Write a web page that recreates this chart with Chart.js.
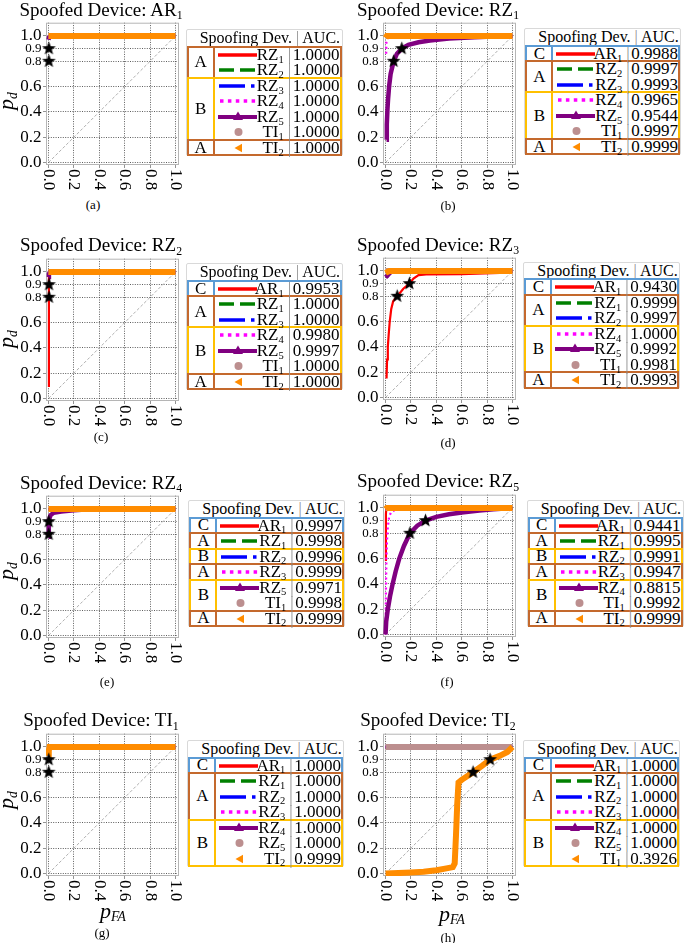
<!DOCTYPE html>
<html>
<head>
<meta charset="utf-8">
<script src="https://cdn.jsdelivr.net/npm/chart.js@4.4.1/dist/chart.umd.min.js"></script>
<style>
  html, body { margin: 0; padding: 0; background: #fff; }
  body { position: relative; width: 685px; height: 943px; overflow: hidden;
         font-family: "Liberation Serif", "Times New Roman", serif; color: #000; }
  canvas { position: absolute; }
  .abs { position: absolute; white-space: nowrap; }
  sub { font-size: 0.62em; vertical-align: baseline; position: relative; top: 0.28em; line-height: 0; }
  .title { font-size: 19px; line-height: 19px; width: 240px; text-align: center; }
  .axlab { font-size: 22px; font-style: italic; line-height: 24px; width: 50px; height: 24px; text-align: center; }
  .cap { font-size: 13px; line-height: 13px; width: 40px; text-align: center; }
  .leg { position: absolute; width: 157px; height: 127px; border: 1px solid #d9d9d9; border-radius: 2px;
         background: #fff; box-sizing: border-box; }
  .leg .hd { position: absolute; left: 13px; top: -1px; font-size: 16px; line-height: 17px; white-space: nowrap; }
  .bar { color: #8c8c8c; }
  .grp { position: absolute; box-sizing: border-box; border: 2px solid; }
  .grp .gl { position: absolute; left: 0; top: 0; bottom: 0; width: 26px; border-right: 2px solid;
             box-sizing: border-box; display: flex; align-items: center; justify-content: center; font-size: 17px; }
  .row { position: absolute; left: 0; width: 155px; height: 15.5px; font-size: 17px; line-height: 15.5px; white-space: nowrap; }
  .row svg { position: absolute; left: 31px; top: 1px; }
  .row .nm { position: absolute; right: 58px; top: 0; }
  .row .sep { position: absolute; left: 101px; top: 0; }
  .row .auc { position: absolute; left: 106px; top: 0; }
</style>
</head>
<body>
<script>
// ── shared axis data ─────────────────────────────────────────────────────
const xTicks = [0, 0.2, 0.4, 0.6, 0.8, 1.0];
const yTicks = [0, 0.2, 0.4, 0.6, 0.8, 0.9, 1.0];
const smallYTicks = [0.8, 0.9];
const diagonal = [[0, 0], [1, 1]];
const flat = [[0, 1], [1, 1]];

const spoofed = ['AR1', 'RZ1', 'RZ2', 'RZ3', 'RZ4', 'RZ5', 'TI1', 'TI2'];
const panelTags = ['(a)', '(b)', '(c)', '(d)', '(e)', '(f)', '(g)', '(h)'];

// ── (a) spoofed AR1 ──────────────────────────────────────────────────────
const devicesA = ['RZ1', 'RZ2', 'RZ3', 'RZ4', 'RZ5', 'TI1', 'TI2'];
const aucA = [1.0000, 1.0000, 1.0000, 1.0000, 1.0000, 1.0000, 1.0000];
const groupsA = [['A', 2], ['B', 4], ['A', 1]];
const rz5CurveA = [[0, 0.97], [0.004, 0.99], [0.02, 1], [1, 1]];
const curvesA = [flat, flat, flat, flat, rz5CurveA, flat, flat];
const starsA = [[0.003, 0.8], [0.003, 0.9]];

// ── (b) spoofed RZ1 ──────────────────────────────────────────────────────
const devicesB = ['AR1', 'RZ2', 'RZ3', 'RZ4', 'RZ5', 'TI1', 'TI2'];
const aucB = [0.9988, 0.9997, 0.9993, 0.9965, 0.9544, 0.9997, 0.9999];
const groupsB = [['C', 1], ['A', 2], ['B', 3], ['A', 1]];
const rz4CurveB = [[0.005, 0.86], [0.007, 0.95], [0.02, 0.99], [0.1, 1], [1, 1]];
const rz5CurveB = [[0.008, 0.18], [0.01, 0.3], [0.015, 0.42], [0.02, 0.5], [0.028, 0.6], [0.04, 0.7],
                   [0.064, 0.8], [0.09, 0.86], [0.128, 0.9], [0.18, 0.93], [0.26, 0.95], [0.35, 0.965],
                   [0.5, 0.98], [0.7, 0.99], [0.9, 0.997], [1, 1]];
const ti2CurveB = [[0, 0.985], [0.01, 1], [1, 1]];
const curvesB = [flat, flat, flat, rz4CurveB, rz5CurveB, flat, ti2CurveB];
const starsB = [[0.064, 0.8], [0.128, 0.9]];

// ── (c) spoofed RZ2 ──────────────────────────────────────────────────────
const devicesC = ['AR1', 'RZ1', 'RZ3', 'RZ4', 'RZ5', 'TI1', 'TI2'];
const aucC = [0.9953, 1.0000, 1.0000, 0.9980, 0.9997, 1.0000, 1.0000];
const groupsC = [['C', 1], ['A', 2], ['B', 3], ['A', 1]];
const ar1CurveC = [[0.003, 0.09], [0.003, 0.97], [0.006, 1], [1, 1]];
const rz5CurveC = [[0, 0.96], [0.003, 0.985], [0.01, 1], [1, 1]];
const curvesC = [ar1CurveC, flat, flat, flat, rz5CurveC, flat, flat];
const starsC = [[0.004, 0.8], [0.004, 0.9]];

// ── (d) spoofed RZ3 ──────────────────────────────────────────────────────
const devicesD = ['AR1', 'RZ1', 'RZ2', 'RZ4', 'RZ5', 'TI1', 'TI2'];
const aucD = [0.9430, 0.9999, 0.9997, 1.0000, 0.9992, 0.9981, 0.9993];
const groupsD = [['C', 1], ['A', 2], ['B', 3], ['A', 1]];
const ar1CurveD = [[0.008, 0.15], [0.012, 0.3], [0.018, 0.4], [0.025, 0.5], [0.033, 0.6], [0.045, 0.7],
                   [0.06, 0.76], [0.092, 0.8], [0.14, 0.86], [0.188, 0.9], [0.22, 0.94], [0.26, 0.968],
                   [0.32, 0.972], [0.6, 0.975], [0.9, 0.985], [1, 1]];
const rz5CurveD = [[0, 0.95], [0.012, 0.96], [0.025, 0.975], [0.05, 1], [1, 1]];
const ti2CurveD = [[0, 0.985], [0.03, 1], [1, 1]];
const curvesD = [ar1CurveD, flat, flat, flat, rz5CurveD, flat, ti2CurveD];
const starsD = [[0.092, 0.8], [0.188, 0.9]];

// ── (e) spoofed RZ4 ──────────────────────────────────────────────────────
const devicesE = ['AR1', 'RZ1', 'RZ2', 'RZ3', 'RZ5', 'TI1', 'TI2'];
const aucE = [0.9997, 0.9998, 0.9996, 0.9999, 0.9971, 0.9998, 0.9999];
const groupsE = [['C', 1], ['A', 1], ['B', 1], ['A', 1], ['B', 2], ['A', 1]];
const rz5CurveE = [[0, 0.78], [0.002, 0.86], [0.006, 0.92], [0.015, 0.95], [0.04, 0.97], [0.1, 0.98],
                   [0.2, 0.99], [0.35, 1], [1, 1]];
const curvesE = [flat, flat, flat, flat, rz5CurveE, flat, flat];
const starsE = [[0.002, 0.8], [0.002, 0.9]];

// ── (f) spoofed RZ5 ──────────────────────────────────────────────────────
const devicesF = ['AR1', 'RZ1', 'RZ2', 'RZ3', 'RZ4', 'TI1', 'TI2'];
const aucF = [0.9441, 0.9995, 0.9991, 0.9947, 0.8815, 0.9992, 0.9999];
const groupsF = [['C', 1], ['A', 1], ['B', 1], ['A', 1], ['B', 2], ['A', 1]];
const ar1CurveF = [[0.003, 0.58], [0.003, 0.95], [0.006, 1], [1, 1]];
const rz3CurveF = [[0, 0], [0.002, 0.2], [0.004, 0.4], [0.007, 0.6], [0.012, 0.75], [0.018, 0.85],
                   [0.028, 0.93], [0.045, 0.97], [0.08, 0.985], [0.15, 0.995], [0.3, 1], [1, 1]];
const rz4CurveF = [[0, 0], [0.005, 0.1], [0.018, 0.2], [0.035, 0.3], [0.056, 0.4], [0.08, 0.5],
                   [0.108, 0.6], [0.145, 0.7], [0.192, 0.8], [0.25, 0.86], [0.315, 0.9], [0.4, 0.93],
                   [0.5, 0.95], [0.6, 0.965], [0.74, 0.98], [0.85, 0.99], [1, 1]];
const ti2CurveF = [[0, 0.99], [0.01, 1], [1, 1]];
const curvesF = [ar1CurveF, flat, flat, rz3CurveF, rz4CurveF, flat, ti2CurveF];
const starsF = [[0.192, 0.8], [0.315, 0.9]];

// ── (g) spoofed TI1 ──────────────────────────────────────────────────────
const devicesG = ['AR1', 'RZ1', 'RZ2', 'RZ3', 'RZ4', 'RZ5', 'TI2'];
const aucG = [1.0000, 1.0000, 1.0000, 1.0000, 1.0000, 1.0000, 0.9999];
const groupsG = [['C', 1], ['A', 3], ['B', 3]];
const ti2CurveG = [[0, 0.93], [0.002, 0.97], [0.008, 1], [1, 1]];
const curvesG = [flat, flat, flat, flat, flat, flat, ti2CurveG];
const starsG = [[0.002, 0.8], [0.002, 0.9]];

// ── (h) spoofed TI2 ──────────────────────────────────────────────────────
const devicesH = ['AR1', 'RZ1', 'RZ2', 'RZ3', 'RZ4', 'RZ5', 'TI1'];
const aucH = [1.0000, 1.0000, 1.0000, 1.0000, 1.0000, 1.0000, 0.3926];
const groupsH = [['C', 1], ['A', 3], ['B', 3]];
const ti1CurveH = [[0, 0], [0.1, 0.003], [0.2, 0.008], [0.3, 0.013], [0.4, 0.025], [0.48, 0.04],
                   [0.53, 0.05], [0.545, 0.08], [0.555, 0.3], [0.565, 0.55], [0.575, 0.72], [0.6, 0.74],
                   [0.69, 0.8], [0.76, 0.85], [0.824, 0.9], [0.9, 0.93], [0.96, 0.96], [1, 1]];
const curvesH = [flat, flat, flat, flat, flat, flat, ti1CurveH];
const starsH = [[0.69, 0.8], [0.824, 0.9]];

// ── styles (by legend position) ──────────────────────────────────────────
const lineColors = ['#ff0000', '#008000', '#0000ff', '#ff00ff', '#800080', '#bc8f8f', '#ff8c00'];
const lineWidths = [2.2, 2.2, 2.2, 2.2, 4.5, 6, 6];
const lineDashes = [[], [6, 3], [8, 3, 2, 3], [2, 3], [], [], []];
const groupColors = { A: '#c4692d', B: '#ffc000', C: '#5b9bd5' };

// ── layout ───────────────────────────────────────────────────────────────
const plotLeft = [46, 383, 46, 383, 46, 383, 46, 383];
const yOne = [33, 32.5, 268.3, 267.7, 505.7, 504.3, 743.3, 743.3];
const legPos = [[185.7, 29.3], [524.3, 28.3], [185.7, 263.3], [523.3, 261.7],
                [188.3, 500], [526.7, 500], [187.3, 740], [523.3, 740]];
const capPos = [[93, 204], [448, 205], [101, 436], [448, 442], [107, 681], [447, 681], [102, 932], [448, 937]];
const pdY = [101, 339, 571, 800];
const pfaPos = [[113, 910.5], [452, 913.5]];
const AXW = 46, PADT = 8, PW = 134, PH = 146, XAH = 32, PADR = 6;
const ROW0 = 16.5, ROWH = 15.5;

const panels = [
    { devices: devicesA, auc: aucA, groups: groupsA, curves: curvesA, stars: starsA },
    { devices: devicesB, auc: aucB, groups: groupsB, curves: curvesB, stars: starsB },
    { devices: devicesC, auc: aucC, groups: groupsC, curves: curvesC, stars: starsC },
    { devices: devicesD, auc: aucD, groups: groupsD, curves: curvesD, stars: starsD },
    { devices: devicesE, auc: aucE, groups: groupsE, curves: curvesE, stars: starsE },
    { devices: devicesF, auc: aucF, groups: groupsF, curves: curvesF, stars: starsF },
    { devices: devicesG, auc: aucG, groups: groupsG, curves: curvesG, stars: starsG },
    { devices: devicesH, auc: aucH, groups: groupsH, curves: curvesH, stars: starsH },
];

Chart.defaults.font.family = '"Liberation Serif", "Times New Roman", serif';
Chart.defaults.color = '#000';

const fmt = name => name.replace(/^([A-Z]+)(\d)$/, '$1<sub>$2</sub>');
const xy = pts => pts.map(p => ({ x: p[0], y: p[1] }));

// filled black star used as point style
const starImg = (() => {
    const r = 7.2, c = document.createElement('canvas');
    c.width = c.height = Math.ceil(2 * r + 2);
    const g = c.getContext('2d');
    g.beginPath();
    for (let i = 0; i < 10; i++) {
        const rad = i % 2 ? r * 0.42 : r;
        const a = -Math.PI / 2 + i * Math.PI / 5;
        g.lineTo(c.width / 2 + rad * Math.cos(a), c.height / 2 + rad * Math.sin(a));
    }
    g.closePath();
    g.fillStyle = '#000';
    g.fill();
    return c;
})();

const framePlugin = {
    id: 'frame',
    beforeDatasetsDraw(chart) {
        const { ctx, chartArea: a } = chart;
        ctx.save();
        ctx.strokeStyle = '#b5b5b5';
        ctx.lineWidth = 1;
        ctx.strokeRect(a.left + 0.5, a.top + 0.5, a.right - a.left - 1, a.bottom - a.top - 1);
        ctx.restore();
    }
};

// x tick labels read top-to-bottom (rotated clockwise)
const xLabelPlugin = {
    id: 'xlabels',
    afterDraw(chart) {
        const { ctx, chartArea: a } = chart;
        const sx = chart.scales.x;
        ctx.save();
        ctx.fillStyle = '#000';
        ctx.font = '17px "Liberation Serif", serif';
        ctx.textAlign = 'left';
        ctx.textBaseline = 'middle';
        sx.ticks.forEach(t => {
            ctx.save();
            ctx.translate(sx.getPixelForValue(t.value), a.bottom + 4);
            ctx.rotate(Math.PI / 2);
            ctx.fillText(t.value.toFixed(1), 0, 0);
            ctx.restore();
        });
        ctx.restore();
    }
};

function sampleSvg(k) {
    const c = lineColors[k];
    let inner = '';
    if (k === 0) inner = `<line x1="0" y1="7" x2="39" y2="7" stroke="${c}" stroke-width="3.3"/>`;
    if (k === 1) inner = `<line x1="1" y1="7" x2="39" y2="7" stroke="${c}" stroke-width="3.3" stroke-dasharray="15 6"/>`;
    if (k === 2) inner = `<line x1="1" y1="7" x2="39" y2="7" stroke="${c}" stroke-width="3.3" stroke-dasharray="26 6 3.5 6"/>`;
    if (k === 3) inner = `<line x1="2" y1="7" x2="39" y2="7" stroke="${c}" stroke-width="3.3" stroke-dasharray="3.5 4.4"/>`;
    if (k === 4) inner = `<line x1="0" y1="7" x2="39" y2="7" stroke="${c}" stroke-width="3.8"/>` +
                         `<polygon points="20,1.5 25,10 15,10" fill="${c}"/>`;
    if (k === 5) inner = `<circle cx="20.5" cy="7" r="4" fill="${c}"/>`;
    if (k === 6) inner = `<polygon points="16.5,7 24,2.8 24,11.2" fill="${c}"/>`;
    return `<svg width="40" height="14" viewBox="0 0 40 14">${inner}</svg>`;
}

function addDiv(cls, html, css) {
    const d = document.createElement('div');
    d.className = cls;
    d.innerHTML = html;
    d.style.cssText = css;
    document.body.appendChild(d);
    return d;
}

function buildLegend(i, p) {
    const [L, T] = legPos[i];
    const leg = addDiv('leg', `<div class="hd">Spoofing Dev. <span class="bar">|</span> AUC.</div>`,
                       `left:${L}px;top:${T}px;`);
    let start = 0;
    p.groups.forEach(([letter, n]) => {
        const col = groupColors[letter];
        const g = document.createElement('div');
        g.className = 'grp';
        g.style.cssText = `left:0;width:155px;top:${ROW0 + start * ROWH - 1}px;height:${n * ROWH + 2}px;border-color:${col};`;
        g.innerHTML = `<div class="gl" style="border-color:${col}">${letter}</div>`;
        leg.appendChild(g);
        start += n;
    });
    p.devices.forEach((d, k) => {
        const r = document.createElement('div');
        r.className = 'row';
        r.style.top = (ROW0 + k * ROWH) + 'px';
        r.innerHTML = sampleSvg(k) + `<span class="nm">${fmt(d)}</span><span class="sep bar">|</span>` +
                      `<span class="auc">${p.auc[k].toFixed(4)}</span>`;
        leg.appendChild(r);
    });
}

panels.forEach((p, i) => {
    const left = plotLeft[i] - AXW;
    const top = yOne[i] - 0.105 * (PH / 1.125) - PADT;
    const cv = document.createElement('canvas');
    cv.width = AXW + PW + PADR;
    cv.height = PADT + PH + XAH;
    cv.style.cssText = `left:${left}px;top:${top}px;width:${cv.width}px;height:${cv.height}px;`;
    document.body.appendChild(cv);

    const datasets = [{ data: xy(diagonal), borderColor: '#9a9a9a', borderWidth: 0.8, borderDash: [3, 2], order: 20 }];
    p.curves.forEach((pts, k) => datasets.push({
        data: xy(pts),
        borderColor: lineColors[k],
        borderWidth: lineWidths[k],
        borderDash: lineDashes[k],
        order: 10 - k,
    }));
    datasets.push({ data: xy(p.stars), showLine: false, pointStyle: starImg, pointRadius: 6, clip: false, order: 0 });

    const grid = { color: '#333', lineWidth: 0.8, tickLength: 3, tickColor: '#777' };
    const border = { display: false, dash: [1, 1.4] };

    new Chart(cv, {
        type: 'line',
        data: { datasets },
        plugins: [framePlugin, xLabelPlugin],
        options: {
            responsive: false,
            animation: false,
            events: [],
            layout: { padding: { top: PADT, right: PADR, left: 0, bottom: 0 } },
            elements: { point: { radius: 0 }, line: { tension: 0, fill: false } },
            plugins: { legend: { display: false }, tooltip: { enabled: false } },
            scales: {
                x: {
                    type: 'linear', min: -0.02, max: 1.028,
                    afterBuildTicks: s => { s.ticks = xTicks.map(v => ({ value: v })); },
                    afterFit: s => { s.height = XAH; },
                    ticks: { display: false },
                    grid, border,
                },
                y: {
                    type: 'linear', min: -0.02, max: 1.105,
                    afterBuildTicks: s => { s.ticks = yTicks.map(v => ({ value: v })); },
                    afterFit: s => { s.width = AXW; },
                    ticks: {
                        autoSkip: false, padding: 1.5, color: '#000',
                        font: ctx => ({ size: ctx.tick && smallYTicks.includes(ctx.tick.value) ? 13 : 17 }),
                        callback: v => v.toFixed(1),
                    },
                    grid, border,
                },
            },
        },
    });

    // title, captions, axis labels
    const cx = plotLeft[i] + 55;
    addDiv('abs title', `Spoofed Device: ${fmt(spoofed[i])}`, `left:${cx - 120}px;top:${yOne[i] - 33}px;`);
    addDiv('abs cap', panelTags[i], `left:${capPos[i][0] - 20}px;top:${capPos[i][1] - 6.5}px;`);
    if (i % 2 === 0) {
        addDiv('abs axlab', 'p<sub>d</sub>', `left:${6 - 25}px;top:${pdY[i / 2] - 12}px;transform:rotate(-90deg);`);
    }
    if (i >= 6) {
        const [px, py] = pfaPos[i - 6];
        addDiv('abs axlab', 'p<sub>FA</sub>', `left:${px - 25}px;top:${py - 12}px;`);
    }
    buildLegend(i, p);
});
</script>
</body>
</html>
